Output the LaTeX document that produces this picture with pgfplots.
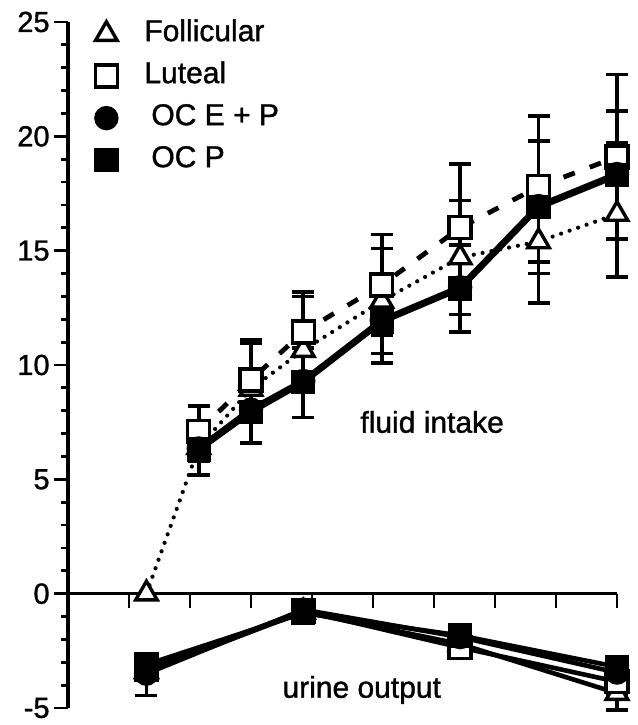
\documentclass[border=0pt]{standalone}
\usepackage{pgfplots}
\usepackage{pgfplotstable}
\pgfplotsset{compat=1.18}
\usepackage{fontspec}
\setmainfont{Liberation Sans}[FakeBold=1.2]

% fluid intake: time (min), mean, error up, error down
\pgfplotstableread{
x y ep em
0 0 0 0
20 6.4 0.6 0.6
40 8.95 2.0 0.9
60 10.65 2.35 1.2
90 12.8 2.3 2.3
120 14.7 2.5 2.5
150 15.4 2.7 2.7
180 16.6 3.1 2.75
}\folF
\pgfplotstableread{
x y ep em
20 7.1 1.1 0.5
40 9.35 1.75 1.0
60 11.45 1.75 1.75
90 13.5 2.2 2.2
120 16.0 2.8 2.8
150 17.8 3.1 3.3
180 19.1 3.6 3.6
}\lutF
\pgfplotstableread{
x y ep em
20 6.35 0.3 0.3
40 8.05 0.3 0.3
60 9.3 0.3 0.3
90 11.95 0.3 0.3
120 13.4 0.3 0.3
150 16.95 0.3 0.3
180 18.35 0.3 0.3
}\ocepF
\pgfplotstableread{
x y ep em
20 6.3 0.8 1.1
40 7.95 1.0 1.35
60 9.25 1.5 1.55
90 11.9 1.8 1.8
120 13.35 1.9 1.9
150 16.9 2.9 2.9
180 18.3 2.8 2.8
}\ocpF
% urine output
\pgfplotstableread{
x y ep em
0 -3.4 0.3 0.3
60 -0.8 0.2 0.2
120 -2.2 0.3 0.3
180 -4.35 0.3 0.75
}\folU
\pgfplotstableread{
x y ep em
0 -3.3 0.3 0.3
60 -0.75 0.2 0.2
120 -2.35 0.2 0.2
180 -3.85 0.3 0.6
}\lutU
\pgfplotstableread{
x y ep em
0 -3.5 0.3 0.3
60 -0.7 0.2 0.2
120 -1.9 0.2 0.2
180 -3.45 0.3 0.3
}\ocepU
\pgfplotstableread{
x y ep em
0 -3.1 0.3 1.35
60 -0.85 0.2 0.2
120 -1.83 0.2 0.2
180 -3.2 0.3 0.3
}\ocpU

\pgfplotsset{
  errs/.style={
    /pgfplots/error bars/y dir=both, /pgfplots/error bars/y explicit,
    /pgfplots/error bars/error bar style={line width=1.8pt, black, solid},
    /pgfplots/error bars/error mark options={rotate=90, mark size=5.5pt, line width=1.8pt, black, solid}
  },
  folsty/.style={black, line width=2.1pt, line cap=round, dash pattern=on 0pt off 4.5pt,
    mark=triangle*, mark options={solid, fill=white, line width=1.7pt, mark size=6.2pt}},
  lutsty/.style={black, line width=2.4pt, dash pattern=on 6pt off 8pt,
    mark=square*, mark options={solid, fill=white, line width=1.7pt, mark size=5.5pt}},
  ocepsty/.style={black, line width=3pt, solid,
    mark=*, mark options={solid, fill=black, line width=1pt, mark size=5.6pt}},
  ocpsty/.style={black, line width=3pt, solid,
    mark=square*, mark options={solid, fill=black, line width=1pt, mark size=5.6pt}},
  urine/.style={solid, line width=2.3pt},
}

\begin{document}
\begin{tikzpicture}
\begin{axis}[
  set layers=standard,
  mark layer=axis foreground,
  scale only axis, width=274.5pt, height=343pt,
  xmin=-30, xmax=180, ymin=-5, ymax=25,
  axis x line*=middle, axis y line*=left,
  axis line style={line width=1.8pt},
  xtick={-6.6667,16.6667,40,63.3333,86.6667,110,133.3333,156.6667,180},
  xticklabels={},
  ytick={-5,0,5,10,15,20,25},
  minor y tick num=4,
  tick align=outside,
  major tick length=7pt, minor tick length=3.5pt,
  every tick/.style={black, line width=1.4pt},
  clip=false,
  /pgf/number format/assume math mode=true,
  ticklabel style={font=\fontsize{14.5}{17}\selectfont},
  yticklabel style={inner sep=2pt},
  legend image code/.code={
    \path (0pt,0pt) (14pt,0pt);
    \draw[#1] plot[only marks] coordinates {(7pt,0pt)};
  },
  legend cell align=left,
  legend style={at={(axis cs:-21.97,25.1)}, anchor=north west,
    draw=none, fill=none, inner sep=0pt, column sep=10.5pt, row sep=7pt,
    nodes={inner sep=0pt, text height=10.5pt, text depth=3.5pt},
    font=\fontsize{15}{18}\selectfont},
]
\addplot[folsty, errs] table[x=x, y=y, y error plus=ep, y error minus=em] {\folF};
\addlegendentry{Follicular}
\addplot[lutsty, errs] table[x=x, y=y, y error plus=ep, y error minus=em] {\lutF};
\addlegendentry{Luteal}
\addplot[ocepsty, errs] table[x=x, y=y, y error plus=ep, y error minus=em] {\ocepF};
\addlegendentry{\hspace{3.5pt}OC E + P}
\addplot[ocpsty, errs] table[x=x, y=y, y error plus=ep, y error minus=em] {\ocpF};
\addlegendentry{\hspace{3.5pt}OC P}

\addplot[forget plot, folsty, urine, errs] table[x=x, y=y, y error plus=ep, y error minus=em] {\folU};
\addplot[forget plot, lutsty, urine, errs] table[x=x, y=y, y error plus=ep, y error minus=em] {\lutU};
\addplot[forget plot, ocepsty, urine, errs] table[x=x, y=y, y error plus=ep, y error minus=em] {\ocepU};
\addplot[forget plot, ocpsty, urine, errs] table[x=x, y=y, y error plus=ep, y error minus=em] {\ocpU};

\node[anchor=base west, font=\fontsize{15}{18}\selectfont, inner sep=0pt] at (axis cs:81.7,7.04) {fluid intake};
\node[anchor=base west, font=\fontsize{15}{18}\selectfont, inner sep=0pt] at (axis cs:51.9,-4.55) {urine output};
\end{axis}
\path ([xshift=-34pt,yshift=-8.5pt]current axis.south west) rectangle ([xshift=10pt,yshift=11pt]current axis.north east);
\end{tikzpicture}
\end{document}
